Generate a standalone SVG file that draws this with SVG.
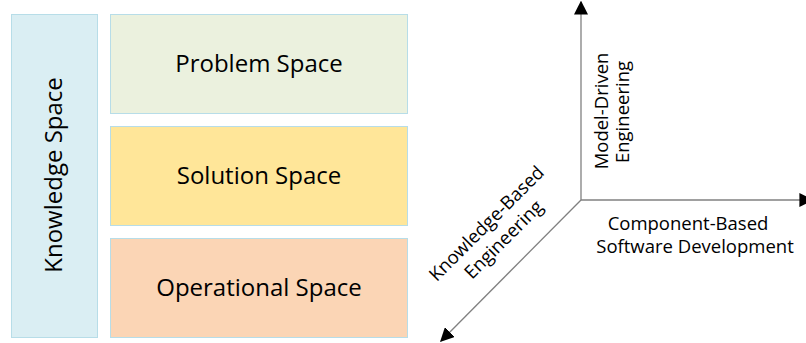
<svg xmlns="http://www.w3.org/2000/svg" width="806" height="343" viewBox="0 0 806 343">
<style>
.box{stroke:#b7dde8;stroke-width:1}
.t{font-family:"Open Sans","Liberation Sans",sans-serif;fill:#000}
.big{font-size:24px}
.sm{font-size:18.5px}
.ax{stroke:#808080;stroke-width:1.3;fill:none}
</style>
<defs>
<marker id="ah" viewBox="0 0 10 10" refX="9" refY="5" markerWidth="14" markerHeight="14" markerUnits="userSpaceOnUse" orient="auto">
<path d="M0,0 L10,5 L0,10 Z" fill="#000"/>
</marker>
</defs>
<rect width="806" height="343" fill="#fff"/>
<g id="knowledge">
<rect class="box" x="11.5" y="14.5" width="86" height="323" fill="#daeef3"/>
<text class="t big" transform="translate(62,175) rotate(-90)" text-anchor="middle">Knowledge Space</text>
</g>
<g id="problem">
<rect class="box" x="110.5" y="14.5" width="297" height="99" fill="#ebf1de"/>
<text class="t big" x="259" y="72" text-anchor="middle">Problem Space</text>
</g>
<g id="solution">
<rect class="box" x="110.5" y="126.5" width="297" height="99" fill="#ffe699"/>
<text class="t big" x="259" y="184" text-anchor="middle">Solution Space</text>
</g>
<g id="operational">
<rect class="box" x="110.5" y="238.5" width="297" height="99" fill="#fbd5b5"/>
<text class="t big" x="259" y="296" text-anchor="middle">Operational Space</text>
</g>
<g id="connectors">
<line class="ax" x1="581" y1="200" x2="581" y2="2" marker-end="url(#ah)"/>
<line class="ax" x1="581" y1="200" x2="812" y2="200" marker-end="url(#ah)"/>
<line class="ax" x1="581" y1="200" x2="441" y2="341" marker-end="url(#ah)"/>
</g>
<g id="labels">
<text class="t sm" transform="translate(608,111) rotate(-90)" text-anchor="middle">Model-Driven</text>
<text class="t sm" transform="translate(629,112) rotate(-90)" text-anchor="middle">Engineering</text>
<text class="t sm" x="688" y="230" text-anchor="middle">Component-Based</text>
<text class="t sm" x="695" y="253" text-anchor="middle">Software Development</text>
<text class="t sm" transform="translate(491,228) rotate(-45)" text-anchor="middle">Knowledge-Based</text>
<text class="t sm" transform="translate(508,244) rotate(-45)" text-anchor="middle">Engineering</text>
</g>
</svg>
